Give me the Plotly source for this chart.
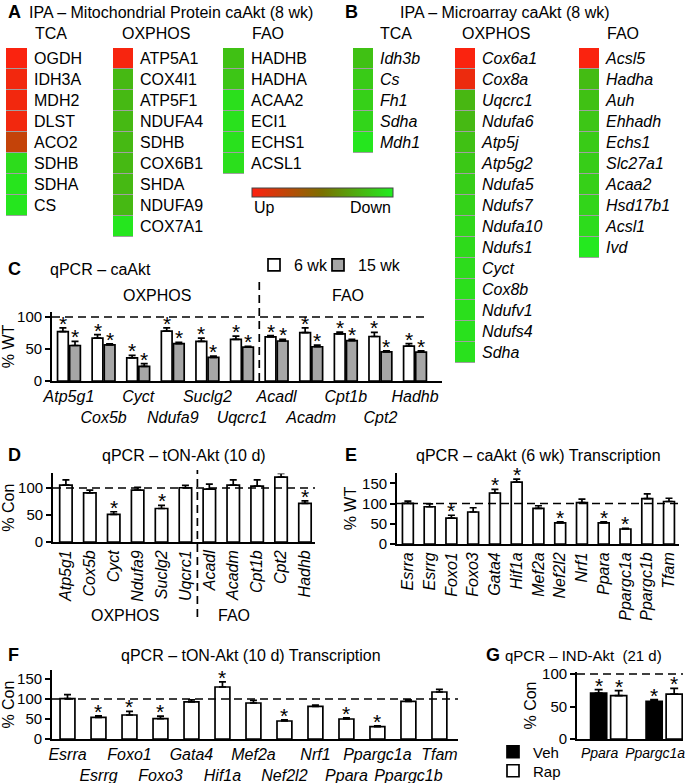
import plotly.graph_objects as go

W, H = 700, 783
FONT = "Liberation Sans, Arial, sans-serif"
FS = 16
NFS = 15
LW = 1.7

# ---------------- Panel A : IPA mitochondrial protein (score 0 = Up/red ... 1 = Down/green)
a_tca_genes = ["OGDH", "IDH3A", "MDH2", "DLST", "ACO2", "SDHB", "SDHA", "CS"]
a_tca_score = [0.02, 0.05, 0.05, 0.05, 0.22, 0.93, 0.96, 0.97]
a_ox_genes = ["ATP5A1", "COX4I1", "ATP5F1", "NDUFA4", "SDHB", "COX6B1", "SHDA", "NDUFA9", "COX7A1"]
a_ox_score = [0.03, 0.79, 0.79, 0.79, 0.79, 0.79, 0.79, 0.79, 0.97]
a_fao_genes = ["HADHB", "HADHA", "ACAA2", "ECI1", "ECHS1", "ACSL1"]
a_fao_score = [0.82, 0.84, 0.94, 0.95, 0.95, 0.94]

# ---------------- Panel B : IPA microarray
b_tca_genes = ["Idh3b", "Cs", "Fh1", "Sdha", "Mdh1"]
b_tca_score = [0.82, 0.86, 0.88, 0.90, 0.97]
b_ox_genes = ["Cox6a1", "Cox8a", "Uqcrc1", "Ndufa6", "Atp5j", "Atp5g2", "Ndufa5", "Ndufs7",
              "Ndufa10", "Ndufs1", "Cyct", "Cox8b", "Ndufv1", "Ndufs4", "Sdha"]
b_ox_score = [0.02, 0.07, 0.78, 0.79, 0.82, 0.85, 0.87, 0.89, 0.91, 0.92, 0.93, 0.94, 0.94, 0.95, 0.95]
b_fao_genes = ["Acsl5", "Hadha", "Auh", "Ehhadh", "Echs1", "Slc27a1", "Acaa2", "Hsd17b1", "Acsl1", "Ivd"]
b_fao_score = [0.02, 0.80, 0.82, 0.84, 0.86, 0.87, 0.88, 0.90, 0.93, 0.98]

# ---------------- Panel C : qPCR caAkt (% WT)
c_genes = ["Atp5g1", "Cox5b", "Cyct", "Ndufa9", "Suclg2", "Uqcrc1", "Acadl", "Acadm", "Cpt1b", "Cpt2", "Hadhb"]
c_6wk = [77, 67, 36, 78, 62, 65, 69, 75.5, 73.5, 69.5, 54.5]
c_6wk_err = [6, 5.5, 4, 5, 5, 5, 2, 7.5, 3, 6.5, 4]
c_6wk_sig = [1] * 11
c_15wk = [55.5, 56.5, 23, 58.5, 37, 53, 62.5, 53.5, 63, 45.5, 45]
c_15wk_err = [6.5, 1.5, 4, 2, 2, 1, 2.5, 2.5, 2, 1.5, 2]
c_15wk_sig = [1] * 11

# ---------------- Panel D : qPCR tON-Akt (10 d) (% Con)
d_genes = ["Atp5g1", "Cox5b", "Cyct", "Ndufa9", "Suclg2", "Uqcrc1", "Acadl", "Acadm", "Cpt1b", "Cpt2", "Hadhb"]
d_val = [105.5, 91, 51, 96, 62, 100.5, 98, 105.5, 103.5, 120, 71.5]
d_err = [9.5, 5, 5, 5, 6, 4.5, 9, 9.5, 11.5, 7, 4.5]
d_sig = [0, 0, 1, 0, 1, 0, 0, 0, 0, 0, 1]

# ---------------- Panel E : qPCR caAkt (6 wk) transcription (% WT)
tf_genes = ["Esrra", "Esrrg", "Foxo1", "Foxo3", "Gata4", "Hif1a", "Mef2a", "Nef2l2", "Nrf1", "Ppara",
            "Ppargc1a", "Ppargc1b", "Tfam"]
e_val = [100.5, 92, 64, 79, 126, 153, 88, 52, 102, 52, 37, 112, 105]
e_err = [5.5, 7, 7, 10.5, 9, 7, 6.5, 3, 9, 3, 1.5, 12, 8]
e_sig = [0, 0, 1, 0, 1, 1, 0, 1, 0, 1, 1, 0, 0]

# ---------------- Panel F : qPCR tON-Akt (10 d) transcription (% Con)
f_val = [101, 54, 60, 51, 93, 130, 90, 45, 81.5, 50, 31, 94, 117.5]
f_err = [10, 4, 9, 6, 5, 13, 6.5, 3, 3.5, 3, 2, 4, 6.5]
f_sig = [0, 1, 1, 1, 0, 1, 0, 1, 0, 1, 1, 0, 0]

# ---------------- Panel G : qPCR IND-Akt (21 d) (% Con)
g_genes = ["Ppara", "Ppargc1a"]
g_veh = [70.8, 58]
g_veh_err = [5.2, 2.5]
g_rap = [66.7, 69]
g_rap_err = [7.7, 9]
g_sig = [1, 1]

CSCALE = [[0.0, "#ff2010"], [0.5, "#7a7000"], [1.0, "#20ee20"]]

fig = go.Figure()
layout = dict(width=W, height=H, margin=dict(l=0, r=0, t=0, b=0, autoexpand=False),
              paper_bgcolor="white", plot_bgcolor="white",
              font=dict(family=FONT, size=FS, color="black"),
              barmode="overlay", showlegend=True)
shapes = []
annotations = []


def refs(n):
    return ("x" if n == 1 else f"x{n}"), ("y" if n == 1 else f"y{n}")


def keys(n):
    return ("xaxis" if n == 1 else f"xaxis{n}"), ("yaxis" if n == 1 else f"yaxis{n}")


def text(t, xp, yp, size=FS, xanchor="left", bold=False):
    annotations.append(dict(text=f"<b>{t}</b>" if bold else t, x=xp / W, y=1 - yp / H,
                            xref="paper", yref="paper", xanchor=xanchor, yanchor="middle",
                            showarrow=False, font=dict(size=size)))


def heat_col(n, genes, scores, x0, x1, top, italic, colorbar=None):
    rowh = 21
    bottom = top + rowh * len(genes)
    xr, yr = refs(n)
    xk, yk = keys(n)
    labels = [f"<i>{g}</i>" if italic else g for g in genes]
    idx = list(range(len(genes)))
    tr = go.Heatmap(z=[[s] for s in scores], x=[0], y=idx, colorscale=CSCALE, zmin=0, zmax=1,
                    ygap=1, hoverinfo="skip", xaxis=xr, yaxis=yr, showscale=colorbar is not None)
    if colorbar is not None:
        tr.colorbar = colorbar
    fig.add_trace(tr)
    layout[xk] = dict(domain=[x0 / W, x1 / W], anchor=yr, visible=False, range=[-0.5, 0.5])
    layout[yk] = dict(domain=[1 - bottom / H, 1 - top / H], anchor=xr, side="right",
                      range=[len(genes) - 0.5, -0.5], tickvals=idx, ticktext=labels, ticks="",
                      showline=False, showgrid=False, zeroline=False, ticklabelstandoff=6,
                      tickfont=dict(size=FS))
    shapes.append(dict(type="rect", xref=f"{xr} domain", yref=f"{yr} domain", x0=0, x1=1, y0=0, y1=1,
                       fillcolor="#a0a0a0", line=dict(width=0), layer="below"))


def bar_axes(n, x0, x1, zero_px, ppu, ymax, xrange, labels, yticks, ytitle, tickangle=0, stagger=False,
             tfs=FS, shift=0):
    xr, yr = refs(n)
    xk, yk = keys(n)
    top = zero_px - ymax * ppu
    if stagger:
        tt = [f"<i>{g}</i>" if i % 2 == 0 else f"<br><i>{g}</i>" for i, g in enumerate(labels)]
    else:
        tt = [f"<i>{g}</i>" for g in labels]
    layout[xk] = dict(domain=[x0 / W, x1 / W], anchor=yr, range=xrange, tickvals=list(range(len(labels))),
                      ticktext=tt, tickangle=tickangle, showline=True, linecolor="black", linewidth=LW,
                      ticks="", showgrid=False, zeroline=False, tickfont=dict(size=tfs),
                      ticklabelshift=shift)
    layout[yk] = dict(domain=[1 - zero_px / H, 1 - top / H], anchor=xr, range=[0, ymax], tickvals=yticks,
                      showline=True, linewidth=LW, linecolor="black", ticks="outside", ticklen=5,
                      tickwidth=LW, tickcolor="black", showgrid=False, zeroline=False,
                      tickfont=dict(size=NFS), title=dict(text=ytitle, standoff=2, font=dict(size=FS)))


def add_bars(n, vals, errs, sigs, width, offset, fill, name=None, legend=None, capw=3.5):
    xr, yr = refs(n)
    xs = list(range(len(vals)))
    fig.add_trace(go.Bar(x=xs, y=vals, width=width, offset=offset,
                         marker=dict(color=fill, line=dict(color="black", width=LW)),
                         error_y=dict(type="data", symmetric=False, array=errs, arrayminus=[0] * len(errs),
                                      color="black", thickness=LW, width=capw),
                         xaxis=xr, yaxis=yr, name=name, showlegend=legend is not None,
                         legend=legend if legend else "legend", hoverinfo="skip"))
    for i, (v, e, s) in enumerate(zip(vals, errs, sigs)):
        if s:
            annotations.append(dict(x=i + offset + width / 2, y=v + e, xref=xr, yref=yr, text="*",
                                    showarrow=False, yanchor="bottom", yshift=-9, font=dict(size=21)))


def hdash(n, y, x1=1.0):
    xr, yr = refs(n)
    shapes.append(dict(type="line", xref=f"{xr} domain", yref=yr, x0=0, x1=x1, y0=y, y1=y,
                       line=dict(color="black", width=LW, dash="8px,5px")))


def vdash(n, x, ytop_px, ybot_px):
    xr, yr = refs(n)
    shapes.append(dict(type="line", xref=xr, yref="paper", x0=x, x1=x, y0=1 - ybot_px / H, y1=1 - ytop_px / H,
                       line=dict(color="black", width=LW, dash="8px,5px")))


# ---------------- heatmaps
cbar = dict(orientation="h", x=(252 + 393) / 2 / W, xanchor="center", y=1 - 192.5 / H, yanchor="middle",
            len=141, lenmode="pixels", thickness=9, thicknessmode="pixels", showticklabels=False, ticks="",
            outlinewidth=1, outlinecolor="#444", xpad=0, ypad=0)
heat_col(1, a_tca_genes, a_tca_score, 6, 27, 48, False, colorbar=cbar)
heat_col(2, a_ox_genes, a_ox_score, 113, 133, 48, False)
heat_col(3, a_fao_genes, a_fao_score, 223, 244, 48, False)
heat_col(4, b_tca_genes, b_tca_score, 353, 373, 48, True)
heat_col(5, b_ox_genes, b_ox_score, 455, 475, 48, True)
heat_col(6, b_fao_genes, b_fao_score, 579, 599, 48, True)

text("A", 6, 12, 18, bold=True)
text("IPA – Mitochondrial Protein caAkt (8 wk)", 27, 12)
text("TCA", 33, 34)
text("OXPHOS", 120, 34)
text("FAO", 250, 34)
text("B", 343, 12, 18, bold=True)
text("IPA – Microarray caAkt (8 wk)", 398, 12)
text("TCA", 378, 34)
text("OXPHOS", 460, 34)
text("FAO", 605, 34)
text("Up", 252, 207)
text("Down", 393, 207, xanchor="right")

# ---------------- C
bar_axes(7, 52, 442, 381, 0.64, 108, [-0.49, 10.78], c_genes, [0, 50, 100], "% WT", stagger=True)
add_bars(7, c_6wk, c_6wk_err, c_6wk_sig, 0.31, -0.33, "white", name="6 wk", legend="legend")
add_bars(7, c_15wk, c_15wk_err, c_15wk_sig, 0.31, 0.02, "#a6a6a6", name="15 wk", legend="legend3")
hdash(7, 100, 0.956)
vdash(7, 5.5, 282, 381)
text("C", 6, 269, 18, bold=True)
text("qPCR – caAkt", 48, 269)
text("OXPHOS", 157, 295, xanchor="center")
text("FAO", 348, 295, xanchor="center")

# ---------------- D
bar_axes(8, 53, 315, 542, 0.54, 127, [-0.54, 10.42], d_genes, [0, 50, 100], "% Con", tickangle=-90)
add_bars(8, d_val, d_err, d_sig, 0.52, -0.26, "white")
hdash(8, 100)
vdash(8, 5.5, 470, 617)
text("D", 6, 455, 18, bold=True)
text("qPCR – tON-Akt (10 d)", 184, 455, xanchor="center")
text("OXPHOS", 125, 615, xanchor="center")
text("FAO", 234, 615, xanchor="center")

# ---------------- E
bar_axes(9, 397, 679, 544, 0.405, 175, [-0.5, 12.46], tf_genes, [0, 50, 100, 150], "% WT", tickangle=-90)
add_bars(9, e_val, e_err, e_sig, 0.5, -0.25, "white")
hdash(9, 100)
text("E", 343, 455, 18, bold=True)
text("qPCR – caAkt (6 wk) Transcription", 538, 455, xanchor="center")

# ---------------- F
bar_axes(10, 52, 458, 739, 0.40, 172, [-0.5, 12.6], tf_genes, [0, 50, 100, 150], "% Con", stagger=True)
add_bars(10, f_val, f_err, f_sig, 0.48, -0.24, "white")
hdash(10, 100)
text("F", 6, 655, 18, bold=True)
text("qPCR – tON-Akt (10 d) Transcription", 251, 655, xanchor="center")

# ---------------- G
bar_axes(11, 577, 683, 739, 0.65, 103, [-0.57, 1.34], g_genes, [0, 50, 100], "% Con", tfs=14, shift=-9)
add_bars(11, g_veh, g_veh_err, g_sig, 0.29, -0.325, "black", name="Veh", legend="legend2", capw=4)
add_bars(11, g_rap, g_rap_err, g_sig, 0.29, 0.036, "white", name="Rap", legend="legend4", capw=4)
hdash(11, 100)
text("G", 484, 655, 18, bold=True)
text("qPCR – IND-Akt  (21 d)", 503, 655, 15)

legend_common = dict(itemwidth=30, bgcolor="rgba(0,0,0,0)", traceorder="normal",
                     orientation="h", xanchor="left", yanchor="middle")
layout["legend"] = dict(x=254 / W, y=1 - 265 / H, font=dict(size=FS), **legend_common)
layout["legend3"] = dict(x=318 / W, y=1 - 265 / H, font=dict(size=FS), **legend_common)
layout["legend2"] = dict(x=493 / W, y=1 - 752 / H, font=dict(size=15), **legend_common)
layout["legend4"] = dict(x=493 / W, y=1 - 771 / H, font=dict(size=15), **legend_common)
layout["shapes"] = shapes
layout["annotations"] = annotations
fig.update_layout(**layout)
fig.write_html("out.html", config={"displayModeBar": False},
               post_script="document.body.style.margin='0';document.body.style.overflow='hidden';")
